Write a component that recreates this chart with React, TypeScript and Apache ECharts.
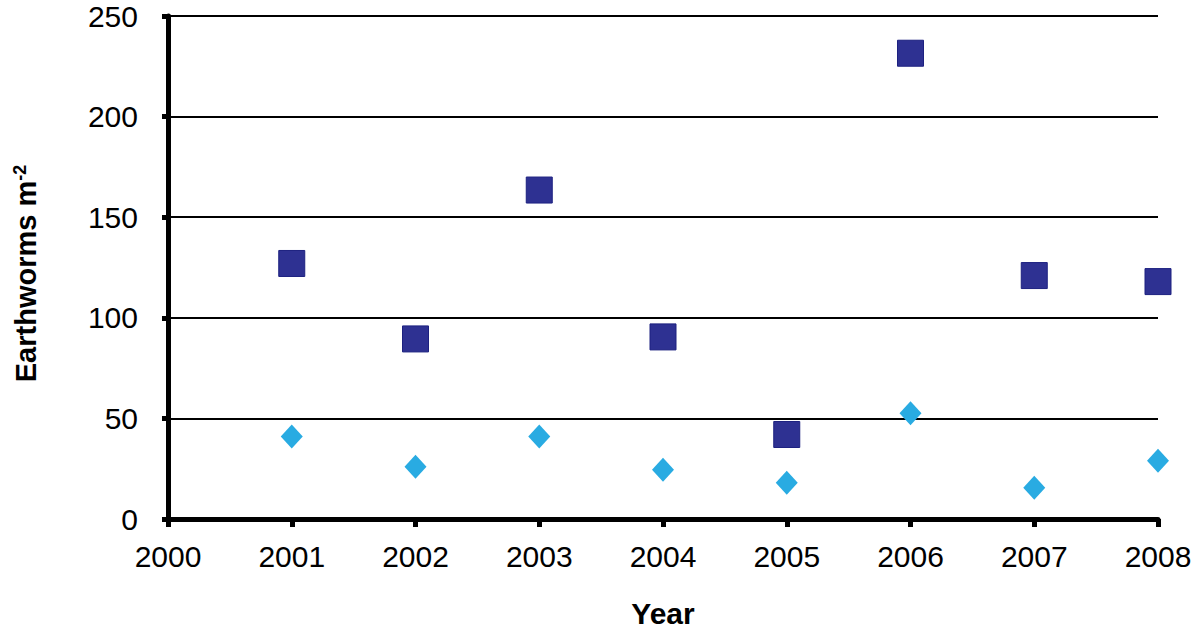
import React, { useEffect, useRef } from "react";
import * as echarts from "echarts";

const years = [2001, 2002, 2003, 2004, 2005, 2006, 2007, 2008];
const squareValues = [127, 89.5, 163.5, 90.5, 42, 231.5, 121, 118];
const diamondValues = [41, 26, 41, 24.5, 18, 52.5, 15.5, 29];
const yTicks = [0, 50, 100, 150, 200, 250];

export default function App() {
  const ref = useRef<HTMLDivElement>(null);
  useEffect(() => {
    if (!ref.current) return;
    const chart = echarts.init(ref.current, undefined, { renderer: "svg" });
    const font = "Liberation Sans";
    chart.setOption({
      animation: false,
      backgroundColor: "#ffffff",
      grid: { left: 168, right: 42, top: 16, bottom: 111, containLabel: false, outerBoundsMode: "none" },
      xAxis: {
        type: "value",
        min: 2000,
        max: 2008,
        interval: 1,
        name: "Year",
        nameLocation: "middle",
        nameGap: 79,
        nameTextStyle: { fontFamily: font, fontSize: 30, fontWeight: "bold", color: "#000" },
        axisLine: { show: true, lineStyle: { color: "#000", width: 5 } },
        axisTick: { show: true, length: 8, lineStyle: { color: "#000", width: 5 } },
        axisLabel: {
          fontFamily: font,
          fontSize: 30,
          color: "#000",
          margin: 22,
          formatter: (v: number) => String(v),
        },
        splitLine: { show: false },
      },
      yAxis: {
        type: "value",
        min: yTicks[0],
        max: yTicks[yTicks.length - 1],
        interval: 50,
        name: "{a|Earthworms m}{b|-2}",
        nameLocation: "middle",
        nameRotate: 90,
        nameGap: 128,
        nameTextStyle: {
          rich: {
            a: { fontFamily: font, fontSize: 29, fontWeight: "bold", color: "#000" },
            b: { fontFamily: font, fontSize: 18, fontWeight: "bold", color: "#000", verticalAlign: "top", padding: [0, 12, 10, 0] },
          },
        },
        axisLine: { show: true, lineStyle: { color: "#000", width: 5 } },
        axisTick: { show: true, length: 6, lineStyle: { color: "#000", width: 5 } },
        axisLabel: {
          fontFamily: font,
          fontSize: 30,
          color: "#000",
          margin: 30,
        },
        splitLine: { show: true, lineStyle: { color: "#000", width: 2 } },
      },
      series: [
        {
          type: "scatter",
          symbol: "rect",
          symbolSize: 26,
          data: years.map((y, i) => [y, squareValues[i]]),
          itemStyle: { color: "#2E3192", borderColor: "#1d2180", borderWidth: 1, opacity: 1 },
          z: 3,
        },
        {
          type: "scatter",
          symbol: "diamond",
          symbolSize: [22, 24],
          data: years.map((y, i) => [y, diamondValues[i]]),
          itemStyle: { color: "#29ABE2", opacity: 1 },
          z: 3,
        },
      ],
    });
    return () => chart.dispose();
  }, []);
  return <div ref={ref} style={{ width: 1200, height: 630, position: "absolute", left: 0, top: 0 }} />;
}
